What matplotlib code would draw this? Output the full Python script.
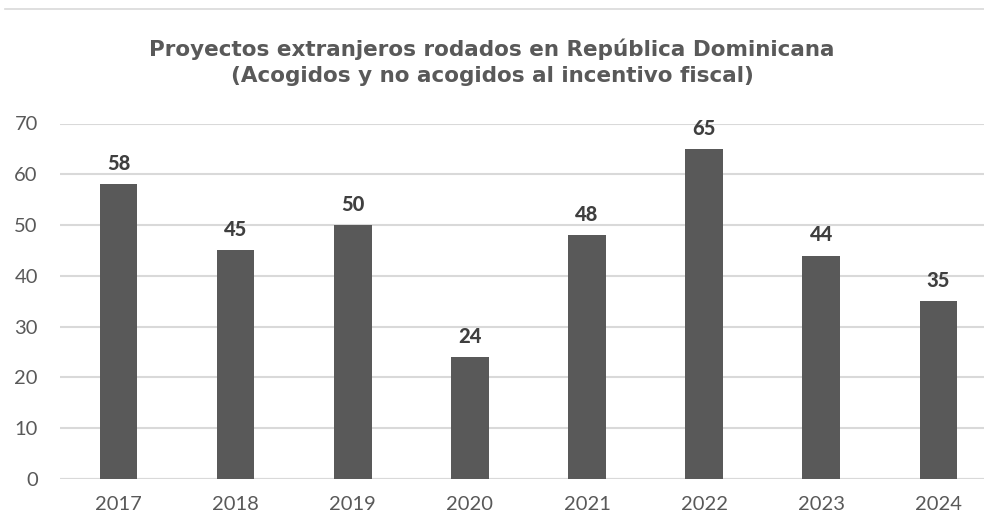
import matplotlib.pyplot as plt
from matplotlib.lines import Line2D

anios = ["2017", "2018", "2019", "2020", "2021", "2022", "2023", "2024"]
proyectos = [58, 45, 50, 24, 48, 65, 44, 35]

gris_barra = "#595959"
gris_texto = "#595959"
gris_grid = "#d9d9d9"

plt.rcParams['font.family'] = ['Lato', 'DejaVu Sans']

fig = plt.figure(figsize=(9.84, 5.31), dpi=100)
ax = fig.add_axes([60 / 984, (531 - 479) / 531, 1 - 60 / 984, (479 - 123.5) / 531])

x = range(len(anios))
barras = ax.bar(x, proyectos, width=0.32, color=gris_barra, zorder=3)

for xi, v in zip(x, proyectos):
    ax.text(xi, v + 2.2, str(v), ha="center", va="bottom", fontsize=14.5,
            fontweight="black", color="#3f3f3f", zorder=4)

ax.set_xlim(-0.5, 7.39)
ax.set_ylim(0, 70)
ax.set_yticks(range(0, 71, 10))
ax.set_xticks(list(x))
ax.set_xticklabels(anios)
ax.grid(axis="y", color=gris_grid, linewidth=1.5, zorder=0)
ax.tick_params(axis="both", length=0, labelsize=14.5, colors=gris_texto)
ax.tick_params(axis="x", pad=12)
ax.tick_params(axis="y", pad=16)
for s in ax.spines.values():
    s.set_visible(False)
ax.axhline(0, color=gris_grid, linewidth=1.5, zorder=2)

fig.text(0.5, 1 - 62 / 531,
         "Proyectos extranjeros rodados en República Dominicana\n(Acogidos y no acogidos al incentivo fiscal)",
         ha="center", va="center", fontsize=15.5, fontweight="bold",
         family="DejaVu Sans", color=gris_texto, linespacing=1.4)

fig.add_artist(Line2D([5 / 984, 1], [1 - 9 / 531, 1 - 9 / 531],
                      transform=fig.transFigure, color="#d9d9d9", linewidth=1.2))

fig.savefig("out.png", dpi=100)
